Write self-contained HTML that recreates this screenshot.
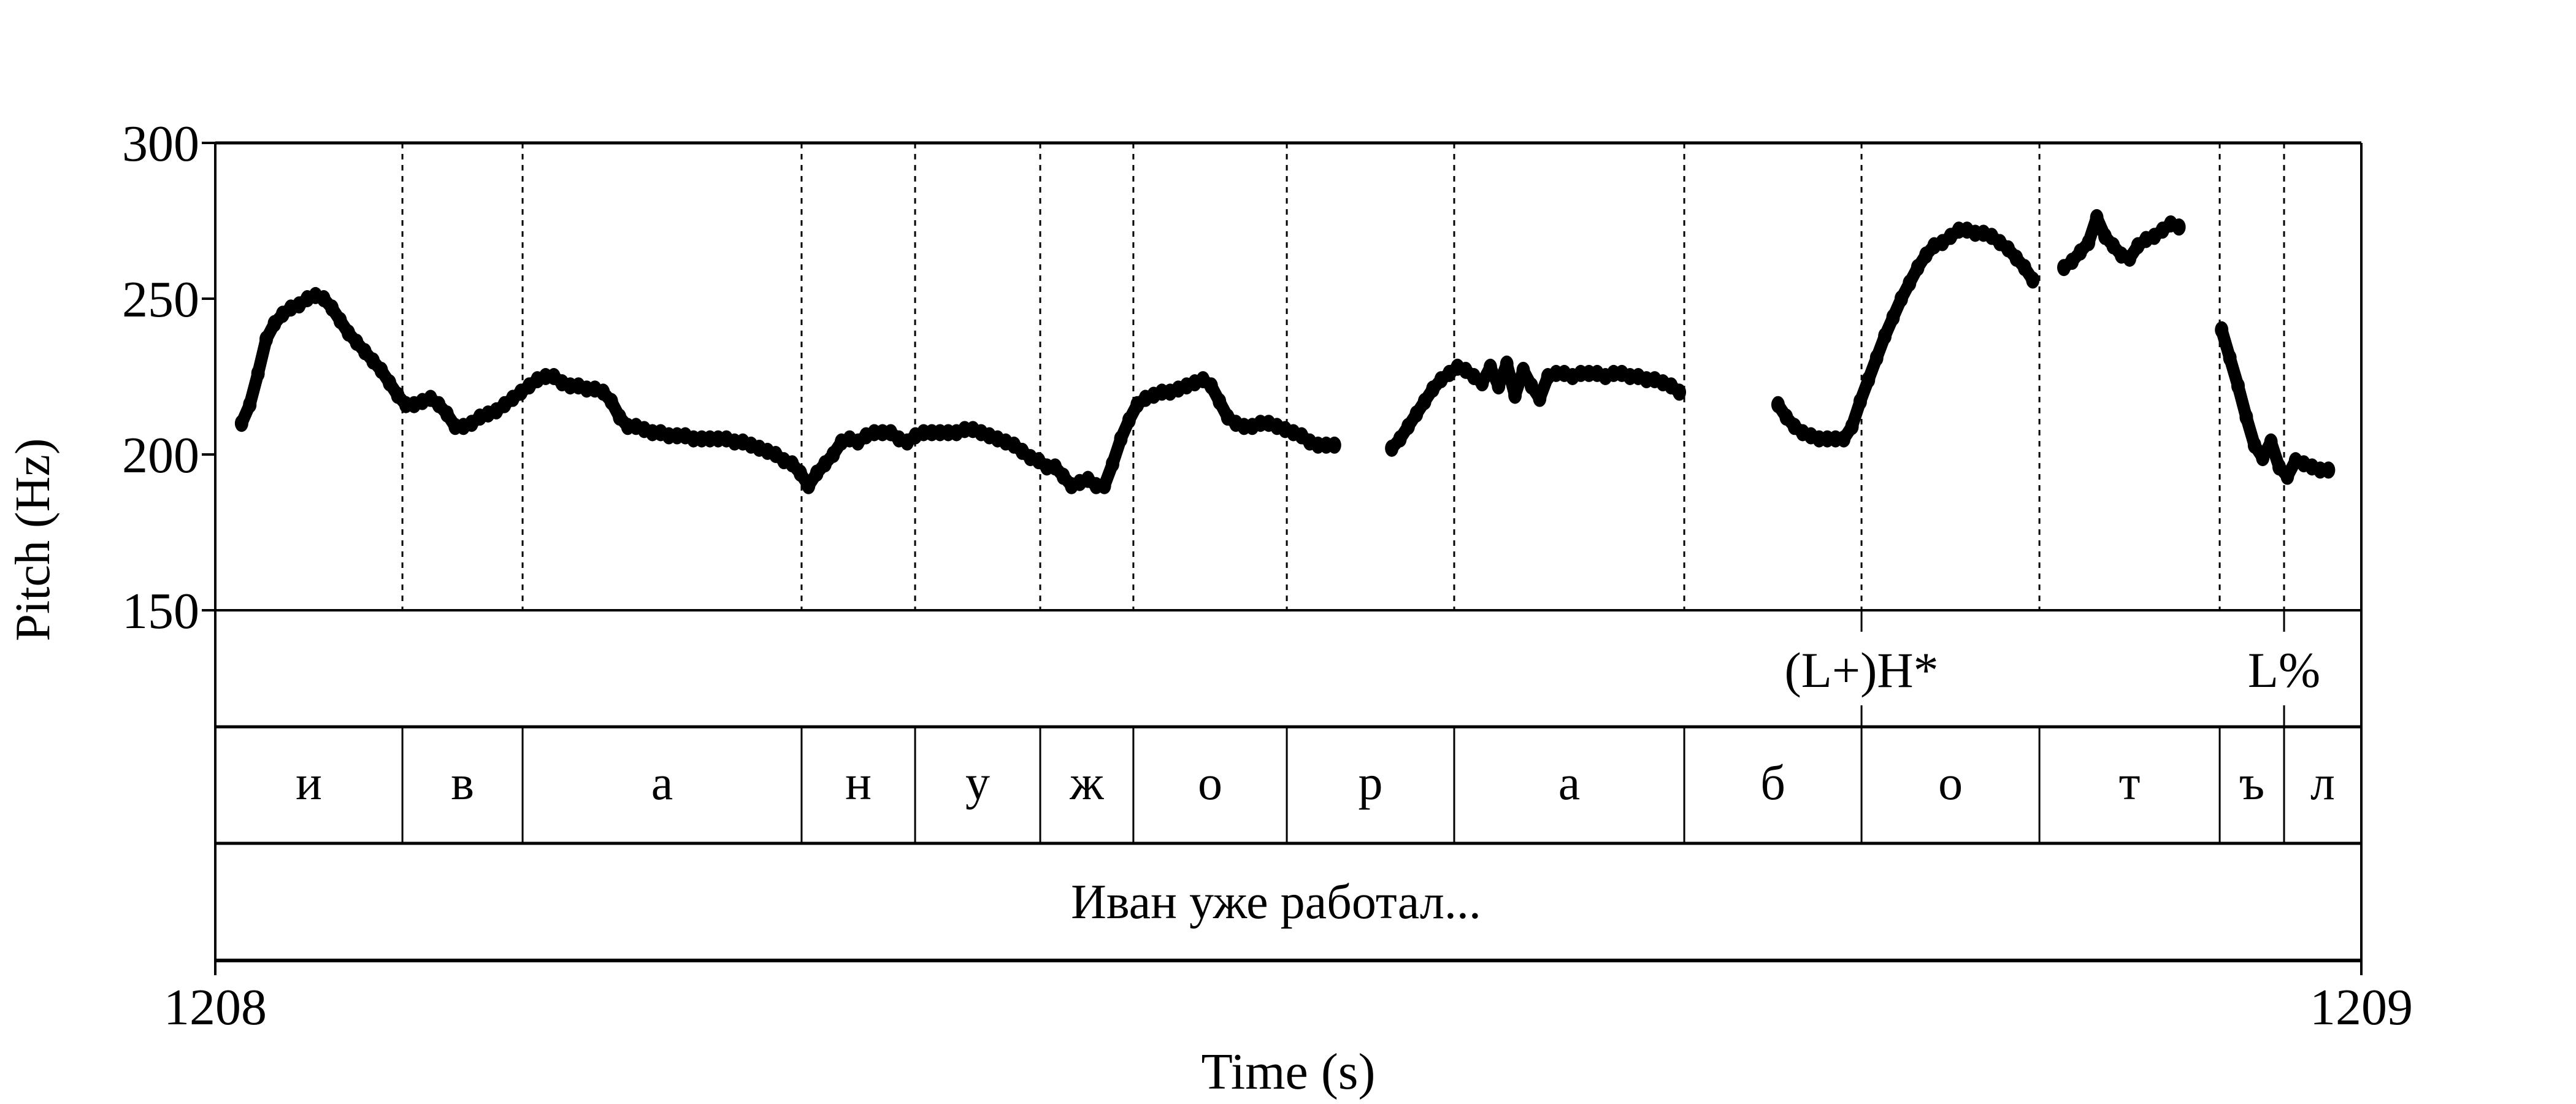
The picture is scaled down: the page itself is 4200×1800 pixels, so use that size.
<!DOCTYPE html>
<html><head><meta charset="utf-8"><style>
html,body{margin:0;padding:0;background:#fff;}
svg{display:block;font-family:"Liberation Serif",serif;}
</style></head><body>
<svg id="chart" width="4200" height="1800" viewBox="0 0 4200 1800" xmlns="http://www.w3.org/2000/svg"></svg>
<script>
const yTicks = [150, 200, 250, 300];
const xTickLabels = ["1208", "1209"];
const phoneBounds = [0.0872,0.1432,0.2732,0.3261,0.3844,0.4278,0.4993,0.5773,0.6845,0.7671,0.8500,0.9340,0.9640];
const phoneLabels = ["и","в","а","н","у","ж","о","р","а","б","о","т","ъ","л"];
const toneTimes = [0.7671, 0.9640];
const toneLabels = ["(L+)H*", "L%"];
const wordLabel = "Иван уже работал...";
const frameStep = 0.003829;
const segStarts = [0.01225, 0.5482, 0.7282, 0.8614, 0.9349];
const seg1 = [210,216,226,237,242,245,247,248,250,251,250,247,243,239,236,233,230,227,223,219,216,216,217,218,216,213,209,209,210,212,213,214,216,218,220,222,224,225,225,223,222,222,221,221,220,217,212,209,209,208,207,207,206,206,206,205,205,205,205,205,204,204,203,202,201,200,198,197,194,190,194,197,200,204,205,204,206,207,207,207,205,204,206,207,207,207,207,207,208,208,207,206,205,204,203,201,199,198,196,196,193,190,191,192,190,190,197,205,211,216,218,219,220,220,221,222,223,224,222,217,212,210,209,209,210,210,209,208,207,206,204,203,203,203];
const seg2 = [202,205,209,213,217,221,224,226,228,227,225,223,228,222,229,219,227,222,218,225,226,226,225,226,226,226,225,226,226,225,225,224,224,223,222,220];
const seg3 = [216,212,209,207,206,205,205,205,205,209,217,224,231,238,244,250,255,260,264,267,268,270,272,272,271,271,270,268,266,263,260,256];
const seg4 = [260,262,265,268,276,270,267,264,263,267,269,270,272,274,273];
const seg5 = [240,231,222,212,203,199,204,196,193,198,197,196,195,195];
const segments = [seg1, seg2, seg3, seg4, seg5];

const NS = "http://www.w3.org/2000/svg";
const svg = document.getElementById("chart");
const L = 351, R = 3850, TOP = 233, PB = 995, T1 = 1185, T2 = 1375, T3 = 1566;
const xs = t => L + t * (R - L);
const ys = hz => PB - (hz - 150) / 150 * (PB - TOP);
function mk(tag, attrs, parent) {
  const e = document.createElementNS(NS, tag);
  for (const k in attrs) e.setAttribute(k, attrs[k]);
  (parent || svg).appendChild(e);
  return e;
}
phoneBounds.forEach(t => {
  const l = mk("line", {x1: xs(t), x2: xs(t), y1: TOP, y2: PB, stroke: "#000", "stroke-width": 3, "stroke-dasharray": "9 9"});
  
  
});
segments.forEach((seg, si) => {
  const pts = seg.map((v, i) => [xs(segStarts[si] + i * frameStep), ys(v)]);
  const pl = mk("polyline", {points: pts.map(p => p.join(",")).join(" "), fill: "none", stroke: "#000", "stroke-width": 20, "stroke-linejoin": "round", "stroke-linecap": "round"});
  
  
  pts.forEach(p => {
    const c = mk("ellipse", {cx: p[0], cy: p[1], rx: 11, ry: 14, fill: "#000"});
    
    
  });
});
mk("line", {x1: L, x2: R, y1: TOP, y2: TOP, stroke: "#000", "stroke-width": 5});
mk("line", {x1: L, x2: R, y1: PB, y2: PB, stroke: "#000", "stroke-width": 4});
mk("line", {x1: L, x2: R, y1: T1, y2: T1, stroke: "#000", "stroke-width": 5});
mk("line", {x1: L, x2: R, y1: T2, y2: T2, stroke: "#000", "stroke-width": 5});
mk("line", {x1: L, x2: R, y1: T3, y2: T3, stroke: "#000", "stroke-width": 6});
mk("line", {x1: L, x2: L, y1: TOP, y2: 1590, stroke: "#000", "stroke-width": 4});
mk("line", {x1: R, x2: R, y1: TOP, y2: 1590, stroke: "#000", "stroke-width": 4});
yTicks.forEach(v => {
  mk("line", {x1: L - 22, x2: L, y1: ys(v), y2: ys(v), stroke: "#000", "stroke-width": 4});
  const t = mk("text", {x: L - 26, y: ys(v) + 29, "text-anchor": "end", "font-size": 84});
  t.textContent = v;
  
  
});
const yt = mk("text", {x: 0, y: 0, "text-anchor": "middle", "font-size": 80, transform: "translate(80 880) rotate(-90)"});
yt.textContent = "Pitch (Hz)";


xTickLabels.forEach((s, i) => {
  mk("line", {x1: xs(i), x2: xs(i), y1: T3, y2: 1590, stroke: "#000", "stroke-width": 4});
  const t = mk("text", {x: xs(i), y: 1670, "text-anchor": "middle", "font-size": 84});
  t.textContent = s;
  
  
});
const xt = mk("text", {x: (L + R) / 2, y: 1775, "text-anchor": "middle", "font-size": 84});
xt.textContent = "Time (s)";


toneTimes.forEach((t, i) => {
  mk("line", {x1: xs(t), x2: xs(t), y1: PB, y2: 1030, stroke: "#000", "stroke-width": 3});
  mk("line", {x1: xs(t), x2: xs(t), y1: 1150, y2: T1, stroke: "#000", "stroke-width": 3});
  const tx = mk("text", {x: xs(t), y: 1120, "text-anchor": "middle", "font-size": 82});
  tx.textContent = toneLabels[i];
  
  
});
const edges = [0].concat(phoneBounds, [1]);
phoneBounds.forEach(t => {
  const l = mk("line", {x1: xs(t), x2: xs(t), y1: T1, y2: T2, stroke: "#000", "stroke-width": 3});
  
  
});
phoneLabels.forEach((s, i) => {
  const tx = mk("text", {x: (xs(edges[i]) + xs(edges[i + 1])) / 2, y: 1303, "text-anchor": "middle", "font-size": 80});
  tx.textContent = s;
  
  
});
const wt = mk("text", {x: (L + R) / 2 - 20, y: 1497, "text-anchor": "middle", "font-size": 80});
wt.textContent = wordLabel;


</script>
</body></html>
